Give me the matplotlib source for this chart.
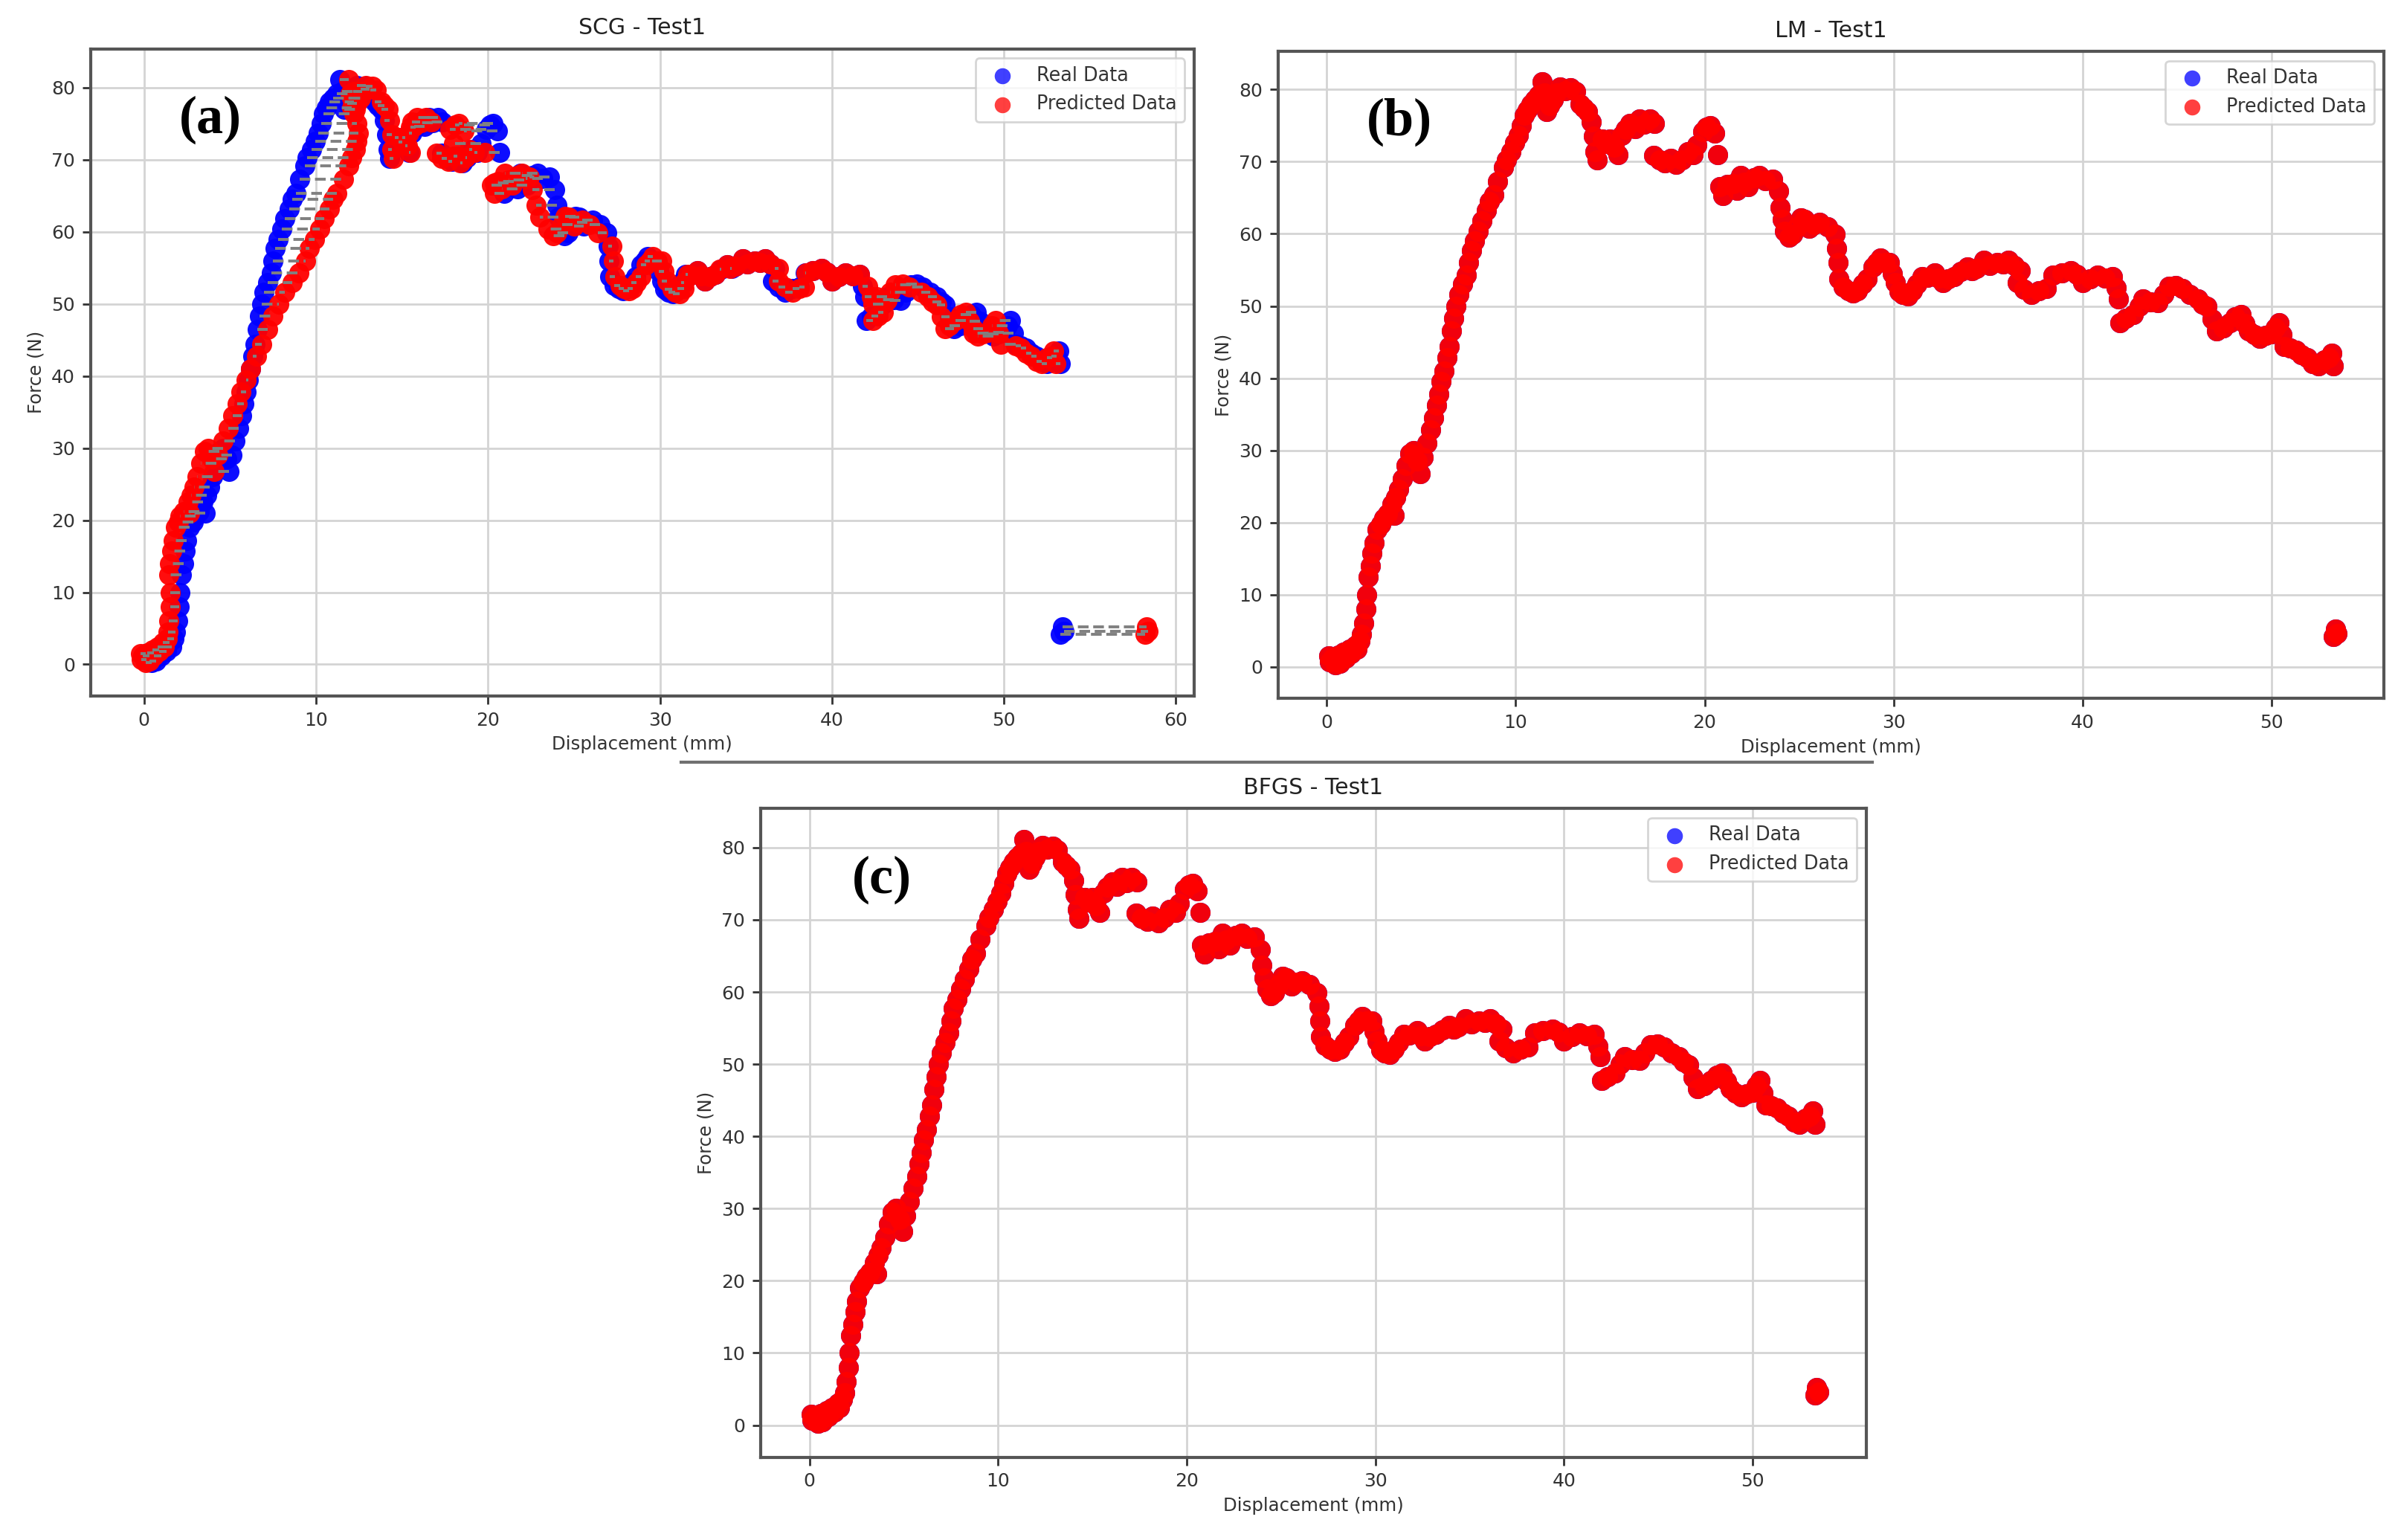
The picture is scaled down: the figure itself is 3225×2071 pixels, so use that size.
import matplotlib
matplotlib.use('Agg')
import matplotlib.pyplot as plt
from matplotlib.lines import Line2D

# ---------------- data ----------------
real_disp = [
    0.1, 0.15, 0.3, 0.45, 0.6, 0.7, 0.9, 1.0, 1.2, 1.3, 1.5, 1.6, 1.75, 1.85,
    1.95, 2.05, 2.1, 2.2, 2.3, 2.4, 2.5, 2.65, 2.85, 3.0, 3.2, 3.45, 3.55, 3.65, 3.8, 4.0,
    4.2, 4.4, 4.6, 4.8, 4.95, 5.1, 5.3, 5.5, 5.67, 5.8, 5.93, 6.05, 6.2, 6.35, 6.46, 6.6,
    6.7, 6.85, 6.98, 7.2, 7.4, 7.5, 7.64, 7.8, 8.0, 8.2, 8.43, 8.6, 8.82, 9.05, 9.34, 9.5,
    9.74, 9.95, 10.13, 10.3, 10.45, 10.6, 10.8, 11.0, 11.2, 11.38, 11.5, 11.64, 11.8, 11.97,
    12.15, 12.36, 12.6, 12.9, 13.15, 13.4, 13.6, 13.8, 14.0, 14.1, 14.2, 14.3, 14.6, 14.8,
    15.0, 15.2, 15.4, 15.6, 15.8, 16.04, 16.3, 16.56, 16.8, 17.1, 17.35,
    17.3, 17.6, 17.9, 18.2, 18.5, 18.8, 19.1, 19.4, 19.6, 19.9, 20.1, 20.3, 20.55, 20.7,
    20.8, 20.95, 21.2, 21.5, 21.7, 21.9, 22.1, 22.3, 22.6, 22.9, 23.2, 23.6, 23.9, 24.0,
    24.1, 24.25, 24.45, 24.65, 24.9, 25.1, 25.3, 25.55, 25.8, 26.1, 26.5, 26.9, 27.0, 27.05,
    27.1, 27.35, 27.6, 27.85, 28.1, 28.35, 28.6, 28.9, 29.1, 29.3, 29.55, 29.8, 29.95, 30.1,
    30.3, 30.5, 30.75, 31.0, 31.25, 31.5, 31.8, 32.2, 32.4, 32.6, 32.9, 33.2, 33.55, 33.9,
    34.15, 34.4, 34.8, 35.1, 35.5, 35.8, 36.1, 36.4, 36.7, 36.55, 36.9, 37.3, 37.7, 38.1,
    38.45, 38.9, 39.4, 39.7, 40.0, 40.4, 40.8, 41.2, 41.6, 41.8, 41.9, 42.0, 42.3, 42.7,
    43.0, 43.2, 43.6, 44.0, 44.3, 44.6, 44.95, 45.3, 45.7, 46.1, 46.35, 46.6, 46.85, 47.1,
    47.45, 47.8, 48.1, 48.4, 48.6, 48.8, 49.1, 49.4, 49.7, 50.0, 50.2, 50.4, 50.55, 50.7,
    51.0, 51.3, 51.6, 51.9, 52.2, 52.5, 52.8, 53.05, 53.2, 53.3,
    53.3, 53.4, 53.5,
]

real_force = [
    1.5, 0.7, 1.2, 0.3, 1.6, 0.5, 2.0, 1.2, 2.4, 1.8, 3.0, 2.4, 3.6, 4.5,
    6.0, 8.0, 10.0, 12.4, 14.0, 15.7, 17.2, 19.0, 19.8, 20.6, 21.2, 22.5, 21.0, 23.5, 24.6, 26.0,
    27.9, 29.5, 30.0, 28.5, 26.8, 29.0, 31.0, 32.8, 34.5, 36.2, 37.8, 39.5, 41.0, 42.8, 44.4, 46.5,
    48.3, 50.0, 51.6, 53.0, 54.3, 56.0, 57.7, 59.0, 60.4, 61.8, 63.2, 64.5, 65.4, 67.3, 69.2, 70.3,
    71.4, 72.6, 73.7, 75.0, 76.4, 77.2, 78.0, 78.6, 79.2, 81.1, 79.5, 77.0, 77.8, 78.6,
    79.5, 80.3, 79.8, 80.2, 79.7, 78.0, 77.5, 77.0, 75.5, 73.5, 71.4, 70.2, 73.1, 72.5,
    73.1, 72.0, 71.0, 73.7, 74.5, 75.3, 74.6, 75.9, 75.2, 75.9, 75.3,
    70.9, 70.2, 69.8, 70.5, 69.6, 70.3, 71.4, 71.0, 72.3, 74.2, 74.8, 75.0, 74.0, 71.0,
    66.5, 65.3, 66.8, 67.0, 66.0, 68.1, 67.2, 66.5, 67.8, 68.1, 67.4, 67.6, 65.9, 63.7,
    62.0, 60.4, 59.5, 59.9, 61.0, 62.2, 62.0, 60.8, 61.3, 61.6, 61.0, 59.9, 58.0, 56.0,
    53.8, 52.6, 52.1, 51.8, 52.1, 53.0, 53.8, 55.4, 56.0, 56.6, 56.0, 56.0, 54.5, 53.2,
    52.0, 51.6, 51.4, 52.1, 53.0, 54.1, 54.0, 54.6, 53.9, 53.2, 53.8, 54.1, 54.8, 55.4,
    54.9, 55.2, 56.3, 55.6, 56.0, 55.8, 56.3, 55.6, 54.9, 53.2, 52.3, 51.6, 52.1, 52.4,
    54.3, 54.6, 54.9, 54.4, 53.2, 53.8, 54.3, 53.9, 54.1, 52.5, 51.0, 47.7, 48.3, 48.8,
    50.0, 51.0, 50.6, 50.5, 51.6, 52.7, 52.8, 52.4, 51.6, 51.0, 50.3, 49.9, 48.2, 46.6,
    47.0, 47.7, 48.5, 48.8, 47.6, 46.6, 46.0, 45.5, 45.9, 46.1, 47.0, 47.7, 46.0, 44.4,
    44.2, 43.9, 43.2, 42.8, 42.0, 41.7, 42.5, 42.8, 43.5, 41.7,
    4.2, 5.2, 4.6,
]

scg_pred_disp = [
    -0.2, -0.15, -0.05, 0.1, 0.2, 0.3, 0.5, 0.6, 0.8, 0.9, 1.1, 1.2, 1.35, 1.4,
    1.45, 1.55, 1.55, 1.45, 1.5, 1.6, 1.7, 1.85, 2.0, 2.1, 2.3, 2.55, 2.65, 2.75, 2.9, 3.1,
    3.3, 3.5, 3.75, 3.95, 4.1, 4.3, 4.6, 4.9, 5.15, 5.4, 5.65, 5.95, 6.2, 6.55, 6.85, 7.2,
    7.5, 7.85, 8.2, 8.6, 9.0, 9.4, 9.6, 9.9, 10.2, 10.5, 10.8, 11.0, 11.2, 11.6, 11.9, 12.1,
    12.3, 12.4, 12.45, 12.4, 12.2, 12.1, 12.2, 12.1, 12.0, 11.9, 12.2, 12.3, 12.4, 12.6,
    12.7, 12.9, 13.1, 13.3, 13.5, 13.8, 14.0, 14.2, 14.3, 14.4, 14.4, 14.5, 14.8, 15.0,
    15.2, 15.3, 15.5, 15.4, 15.5, 15.6, 15.7, 15.9, 16.1, 16.4, 16.7,
    17.0, 17.3, 17.7, 18.0, 18.4, 18.7, 18.9, 19.2, 18.0, 17.8, 18.1, 18.3, 18.6, 19.8,
    20.2, 20.4, 20.4, 20.6, 20.8, 21.0, 21.2, 21.4, 21.7, 22.0, 22.2, 22.4, 22.6, 22.8,
    23.0, 23.5, 23.8, 24.0, 24.3, 24.5, 24.7, 25.0, 25.2, 25.5, 25.9, 26.4, 27.2, 27.3,
    27.4, 27.7, 27.9, 28.2, 28.4, 28.65, 28.9, 29.2, 29.4, 29.6, 29.85, 30.1, 30.25, 30.4,
    30.7, 30.9, 31.15, 31.4, 31.4, 31.6, 31.8, 32.2, 32.4, 32.6, 32.9, 33.2, 33.5, 33.9,
    34.1, 34.4, 34.8, 35.1, 35.5, 35.8, 36.1, 36.4, 36.9, 36.9, 37.3, 37.7, 38.1, 38.4,
    38.5, 38.9, 39.4, 39.7, 40.0, 40.4, 40.8, 41.2, 41.6, 42.1, 42.3, 42.4, 42.7, 43.0,
    42.4, 42.6, 42.9, 43.2, 43.4, 43.7, 44.1, 44.5, 45.2, 45.6, 45.85, 46.1, 46.35, 46.6,
    46.85, 47.2, 47.5, 47.8, 48.0, 48.2, 48.2, 48.5, 48.8, 49.1, 49.3, 49.5, 49.7, 49.8,
    50.7, 51.0, 51.3, 51.6, 51.9, 52.2, 52.5, 52.75, 52.9, 53.0,
    58.2, 58.3, 58.4,
]

# LM and BFGS predictions lie on top of the measured points
lm_pred_disp = list(real_disp)
bfgs_pred_disp = list(real_disp)

titles = ['SCG - Test1', 'LM - Test1', 'BFGS - Test1']
panel_labels = ['(a)', '(b)', '(c)']
xticks_scg = [0, 10, 20, 30, 40, 50, 60]
xticks_other = [0, 10, 20, 30, 40, 50]
yticks = [0, 10, 20, 30, 40, 50, 60, 70, 80]

# ---------------- figure ----------------
plt.rcParams['font.family'] = ['DejaVu Sans']
fig = plt.figure(figsize=(16.125, 10.355), dpi=200)

positions = [
    [0.0378, 0.5480, 0.4601, 0.4203],
    [0.5330, 0.5464, 0.4611, 0.4203],
    [0.3172, 0.0538, 0.4611, 0.4211],
]
xlims = [(-3.1, 61.05), (-2.58, 55.96), (-2.59, 56.03)]
ylims = [(-4.4, 85.4), (-4.4, 85.3), (-4.43, 85.4)]
preds = [scg_pred_disp, lm_pred_disp, bfgs_pred_disp]
xticks_all = [xticks_scg, xticks_other, xticks_other]

text_col = '#333333'
for i in range(3):
    ax = fig.add_axes(positions[i])
    ax.set_axisbelow(True)
    ax.grid(True, color='#d4d4d4', lw=1.0)
    ax.scatter(real_disp, real_force, s=95, color='blue', alpha=0.95,
               linewidths=0, label='Real Data', zorder=2)
    ax.scatter(preds[i], real_force, s=95, color='red', alpha=0.95,
               linewidths=0, label='Predicted Data', zorder=3)
    if i == 0:
        ax.hlines(real_force, real_disp, preds[i], colors='gray',
                  linestyles='dashed', lw=1.4, zorder=4)
    ax.set_xlim(*xlims[i])
    ax.set_ylim(*ylims[i])
    ax.set_xticks(xticks_all[i])
    ax.set_yticks(yticks)
    ax.tick_params(labelsize=9, colors=text_col, width=1.0, length=4)
    for sp in ax.spines.values():
        sp.set_color('#555555')
        sp.set_linewidth(1.5)
    ax.set_title(titles[i], fontsize=10.8, color='#222222', pad=7)
    ax.set_xlabel('Displacement (mm)', fontsize=8.8, color=text_col, labelpad=3)
    ax.set_ylabel('Force (N)', fontsize=8.8, color=text_col, labelpad=3)
    leg = ax.legend(loc='upper right', fontsize=9.2)
    for h in leg.legend_handles:
        h.set_alpha(0.75)
        h.set_sizes([60])
    for t in leg.get_texts():
        t.set_color(text_col)
    ax.text(3.85, 75.5, panel_labels[i], fontsize=26, fontweight='bold',
            family='Liberation Serif', ha='center', va='center', zorder=6)

# separator line between the two rows
fig.add_artist(Line2D([916 / 3225, 2518 / 3225], [1 - 1025 / 2071, 1 - 1025 / 2071],
                      color='#707070', lw=1.5, transform=fig.transFigure))

fig.savefig('out.png', dpi=200)
